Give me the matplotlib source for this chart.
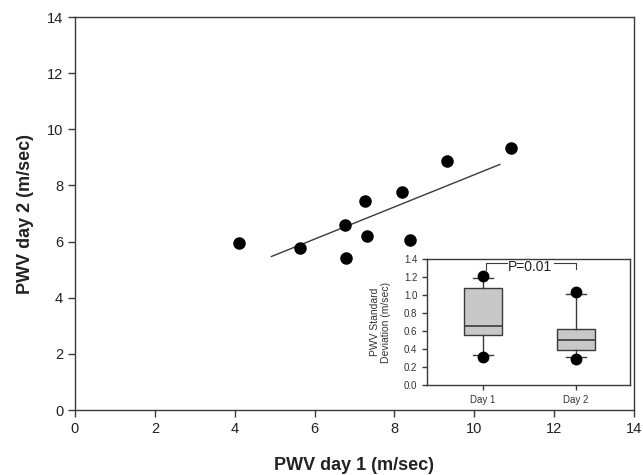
import numpy as np
import matplotlib
matplotlib.use("Agg")
import matplotlib.pyplot as plt

plt.rcParams['font.family'] = ['Liberation Sans', 'DejaVu Sans']

# PWV scatter (m/sec)
pwv_day1 = [4.12, 5.63, 6.75, 6.78, 7.27, 7.31, 8.20, 8.38, 9.32, 10.92]
pwv_day2 = [5.95, 5.76, 6.58, 5.43, 7.46, 6.19, 7.76, 6.07, 8.89, 9.33]

# regression line end points
fit_x = [4.92, 10.64]
fit_y = [5.47, 8.75]

# inset box plot: SD of PWV
box_labels = ["Day 1", "Day 2"]
box_med = [0.66, 0.50]
box_q1 = [0.55, 0.39]
box_q3 = [1.08, 0.62]
box_lo = [0.33, 0.31]
box_hi = [1.19, 1.01]
box_out = [[1.21, 0.31], [1.035, 0.29]]
p_text = "P=0.01"

dark = "#3a3a3a"
fig = plt.figure(figsize=(6.43, 4.75), dpi=100)

ax = fig.add_axes([0.1166, 0.1368, 0.8694, 0.8272])
ax.plot(fit_x, fit_y, color=dark, lw=1.0, zorder=2)
ax.plot(pwv_day1, pwv_day2, "o", color="black", ms=8, zorder=3)
ax.set_xlim(0, 14)
ax.set_ylim(0, 14)
ax.set_xticks(range(0, 15, 2))
ax.set_yticks(range(0, 15, 2))
for s in ax.spines.values():
    s.set_color(dark)
    s.set_linewidth(1.0)
ax.tick_params(direction="out", length=5, width=1, colors=dark, labelsize=10.5,
               labelcolor="#222222")
ax.set_xlabel("PWV day 1 (m/sec)", fontsize=13, fontweight="bold", color="#222222", labelpad=15)
ax.set_ylabel("PWV day 2 (m/sec)", fontsize=13, fontweight="bold", color="#222222", labelpad=9)

# inset
ins = fig.add_axes([0.664, 0.1895, 0.316, 0.2652])
stats = []
for i in range(len(box_labels)):
    stats.append(dict(med=box_med[i], q1=box_q1[i], q3=box_q3[i],
                      whislo=box_lo[i], whishi=box_hi[i], fliers=box_out[i]))
ins.bxp(stats, positions=[1, 2], widths=0.4, capwidths=0.22, patch_artist=True,
        boxprops=dict(facecolor="#c8c8c8", edgecolor=dark, linewidth=1.0),
        medianprops=dict(color=dark, linewidth=1.2),
        whiskerprops=dict(color=dark, linewidth=1.0),
        capprops=dict(color=dark, linewidth=1.0),
        flierprops=dict(marker="o", markerfacecolor="black", markeredgecolor="black",
                        markersize=7.5))
ins.set_xlim(0.4, 2.58)
ins.set_ylim(0, 1.4)
ins.set_yticks(np.arange(0, 1.41, 0.2))
ins.set_yticklabels(["%.1f" % v for v in np.arange(0, 1.41, 0.2)])
ins.set_xticks([1, 2])
ins.set_xticklabels(box_labels)
for s in ins.spines.values():
    s.set_color(dark)
    s.set_linewidth(1.0)
ins.tick_params(direction="out", length=3.5, width=1, colors=dark, labelsize=7,
                labelcolor="#333333")
ins.set_ylabel("PWV Standard\nDeviation (m/sec)", fontsize=7.5, color="#333333",
               labelpad=9, linespacing=1.1)

# significance bracket
ins.plot([1.03, 1.03, 1.26], [1.28, 1.355, 1.355], color=dark, lw=0.8, clip_on=False)
ins.plot([1.76, 2.0, 2.0], [1.355, 1.355, 1.29], color=dark, lw=0.8, clip_on=False)
ins.text(1.51, 1.31, p_text, ha="center", va="center", fontsize=10, color="#222222")

fig.savefig("out.png", dpi=100)
